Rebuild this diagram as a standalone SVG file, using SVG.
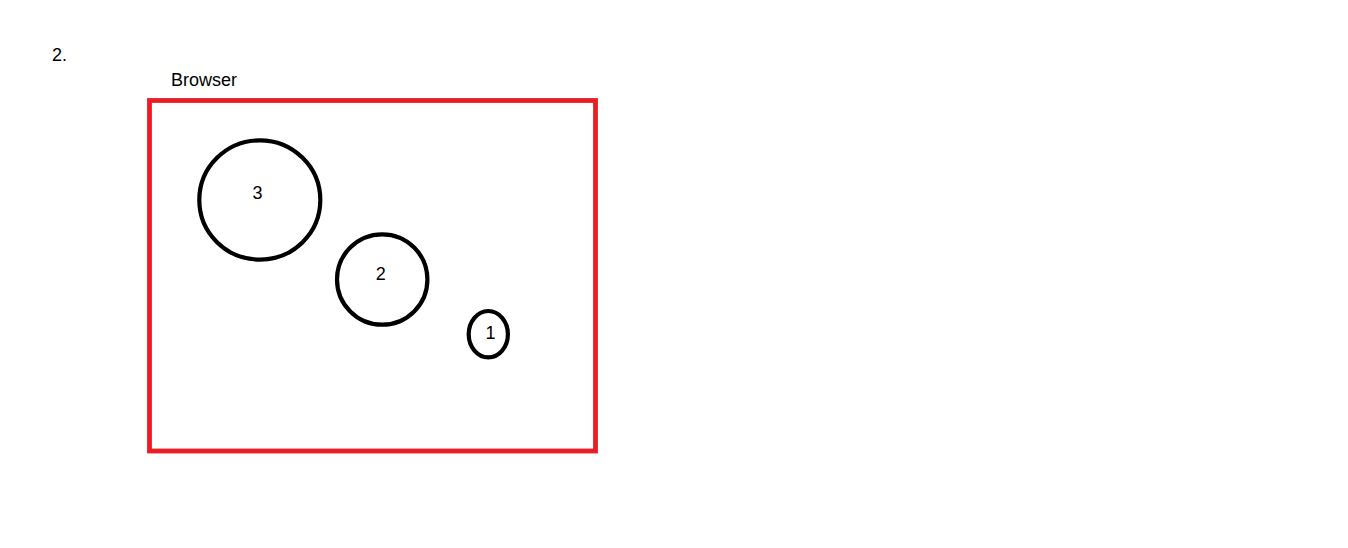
<svg xmlns="http://www.w3.org/2000/svg" width="1348" height="548" viewBox="0 0 1348 548">
<style>
text { font-family: "Liberation Sans", Arial, sans-serif; font-size: 18px; fill: #000; }
.c { text-anchor: middle; }
.node { fill: none; stroke: #000; stroke-width: 4.2; }
.frame { fill: none; stroke: #ED1C24; stroke-width: 4.8; }
</style>
<rect width="1348" height="548" fill="#fff"/>
<text x="52" y="61">2.</text>
<g id="browser">
<text x="171" y="85.5">Browser</text>
<rect class="frame" x="149.5" y="100.5" width="446" height="350.5"/>
</g>
<g id="node3">
<ellipse class="node" cx="259.8" cy="200" rx="60.5" ry="59.6"/>
<text class="c" x="257.5" y="199">3</text>
</g>
<g id="node2">
<ellipse class="node" cx="382.2" cy="279.5" rx="45.2" ry="45.2"/>
<text class="c" x="380.7" y="280">2</text>
</g>
<g id="node1">
<ellipse class="node" cx="488.3" cy="334.2" rx="19.6" ry="23.2"/>
<text class="c" x="490.4" y="339">1</text>
</g>
<g id="connectors"/>
</svg>
